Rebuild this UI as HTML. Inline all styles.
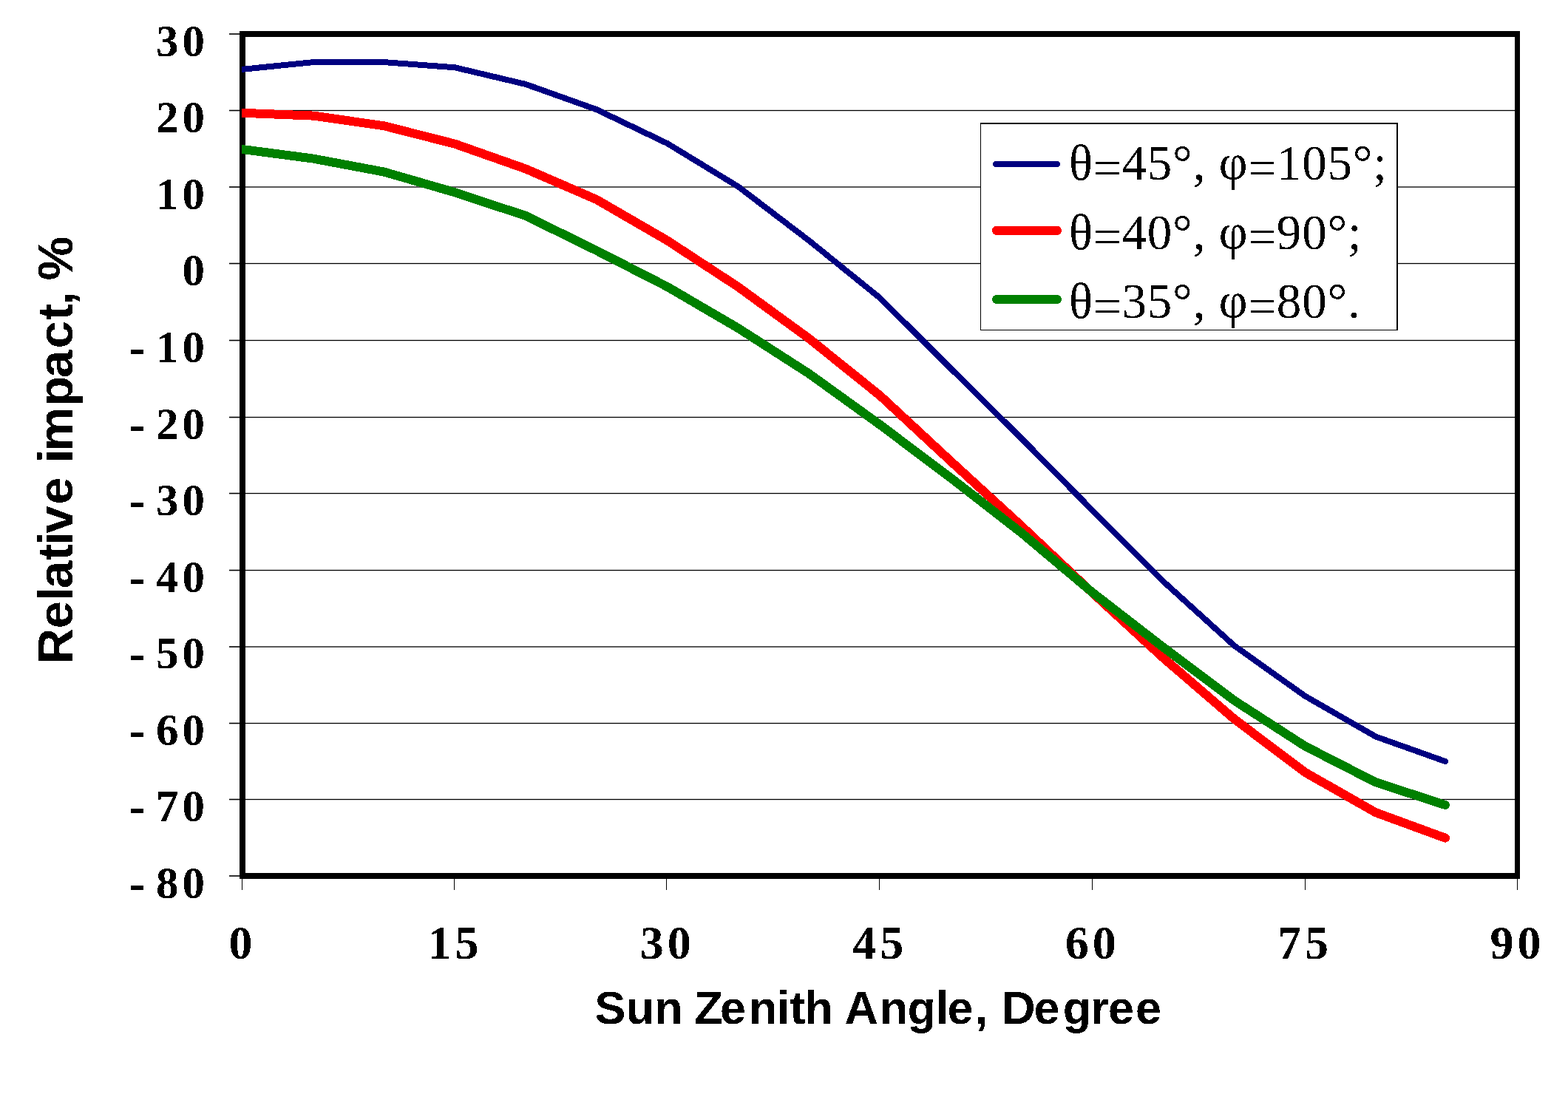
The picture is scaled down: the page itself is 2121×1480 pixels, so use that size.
<!DOCTYPE html>
<html><head><meta charset="utf-8"><style>
html,body{margin:0;padding:0;background:#fff;}
body{width:2121px;height:1480px;overflow:hidden;}
svg{display:block;}
.yl{font-family:"Liberation Serif",serif;font-weight:bold;font-size:61px;letter-spacing:5px;}
.xl{font-family:"Liberation Serif",serif;font-weight:bold;font-size:64px;letter-spacing:5px;}
.lg{font-family:"Liberation Serif",serif;font-size:67px;letter-spacing:0.8px;}
.hy{font-size:66px;letter-spacing:0;}
.at2{font-family:"Liberation Sans",sans-serif;font-weight:bold;font-size:67px;letter-spacing:-0.7px;}
.at{font-family:"Liberation Sans",sans-serif;font-weight:bold;font-size:62.8px;letter-spacing:0.2px;}
</style></head><body>
<svg width="2121" height="1480" viewBox="0 0 2121 1480">
<rect width="2121" height="1480" fill="#fff"/>

<rect x="332" y="148.85" width="1717" height="1.3" fill="#000"/>
<rect x="332" y="252.35" width="1717" height="1.3" fill="#000"/>
<rect x="332" y="355.85" width="1717" height="1.3" fill="#000"/>
<rect x="332" y="459.85" width="1717" height="1.3" fill="#000"/>
<rect x="332" y="563.85" width="1717" height="1.3" fill="#000"/>
<rect x="332" y="666.85" width="1717" height="1.3" fill="#000"/>
<rect x="332" y="770.85" width="1717" height="1.3" fill="#000"/>
<rect x="332" y="874.35" width="1717" height="1.3" fill="#000"/>
<rect x="332" y="977.85" width="1717" height="1.3" fill="#000"/>
<rect x="332" y="1080.85" width="1717" height="1.3" fill="#000"/>
<rect x="310" y="45.20" width="16" height="1.6" fill="#000"/>
<rect x="310" y="148.70" width="16" height="1.6" fill="#000"/>
<rect x="310" y="252.20" width="16" height="1.6" fill="#000"/>
<rect x="310" y="355.70" width="16" height="1.6" fill="#000"/>
<rect x="310" y="459.70" width="16" height="1.6" fill="#000"/>
<rect x="310" y="563.70" width="16" height="1.6" fill="#000"/>
<rect x="310" y="666.70" width="16" height="1.6" fill="#000"/>
<rect x="310" y="770.70" width="16" height="1.6" fill="#000"/>
<rect x="310" y="874.20" width="16" height="1.6" fill="#000"/>
<rect x="310" y="977.70" width="16" height="1.6" fill="#000"/>
<rect x="310" y="1080.70" width="16" height="1.6" fill="#000"/>
<rect x="310" y="1184.20" width="16" height="1.6" fill="#000"/>
<rect x="327" y="1186" width="1" height="18" fill="#000"/>
<rect x="614" y="1186" width="1" height="18" fill="#000"/>
<rect x="901" y="1186" width="1" height="18" fill="#000"/>
<rect x="1189" y="1186" width="1" height="18" fill="#000"/>
<rect x="1477" y="1186" width="1" height="18" fill="#000"/>
<rect x="1765" y="1186" width="1" height="18" fill="#000"/>
<rect x="2052" y="1186" width="1" height="18" fill="#000"/>
<rect x="324" y="42" width="1732" height="8" fill="#000"/>
<rect x="324" y="1181" width="1732" height="8" fill="#000"/>
<rect x="324" y="42" width="8" height="1147" fill="#000"/>
<rect x="2049" y="42" width="7" height="1147" fill="#000"/>
<defs><clipPath id="pc"><rect x="327" y="46" width="1725" height="1139"/></clipPath></defs><g clip-path="url(#pc)">
<polyline points="328.0,93.8 423.8,84.1 519.6,84.1 615.4,91.3 711.2,114.0 807.0,148.2 902.8,194.1 998.6,252.5 1094.4,325.5 1190.2,403.0 1286.1,498.5 1381.9,593.3 1477.7,690.5 1573.5,786.5 1669.3,873.3 1765.1,941.5 1860.9,996.5 1955.0,1030.0" fill="none" stroke="#000080" stroke-width="8" stroke-linejoin="round" stroke-linecap="round" shape-rendering="crispEdges"/>
<polyline points="328.0,152.8 423.8,156.6 519.6,170.3 615.4,194.7 711.2,228.5 807.0,270.0 902.8,325.5 998.6,388.2 1094.4,458.0 1190.2,535.0 1286.1,624.0 1381.9,711.7 1477.7,802.0 1573.5,890.0 1669.3,972.5 1765.1,1044.7 1860.9,1099.2 1955.0,1133.7" fill="none" stroke="#ff0000" stroke-width="12" stroke-linejoin="round" stroke-linecap="round" shape-rendering="crispEdges"/>
<polyline points="328.0,202.0 423.8,214.6 519.6,232.6 615.4,260.3 711.2,292.0 807.0,339.0 902.8,388.0 998.6,444.0 1094.4,505.5 1190.2,574.5 1286.1,646.5 1381.9,721.0 1477.7,801.5 1573.5,875.7 1669.3,947.5 1765.1,1009.3 1860.9,1058.3 1955.0,1089.0" fill="none" stroke="#008000" stroke-width="12" stroke-linejoin="round" stroke-linecap="round" shape-rendering="crispEdges"/>
</g>
<defs><filter id="crisp" x="-5%" y="-5%" width="110%" height="110%"><feComponentTransfer><feFuncA type="discrete" tableValues="0 1"/></feComponentTransfer></filter></defs><g filter="url(#crisp)">
<text class="yl" x="282" y="75.6" text-anchor="end">30</text>
<text class="yl" x="282" y="179.2" text-anchor="end">20</text>
<text class="yl" x="282" y="282.7" text-anchor="end">10</text>
<text class="yl" x="282" y="386.3" text-anchor="end">0</text>
<text class="yl" x="282" y="489.9" text-anchor="end">10</text>
<text class="yl hy" x="174.5" y="491.9">-</text>
<text class="yl" x="282" y="593.5" text-anchor="end">20</text>
<text class="yl hy" x="174.5" y="595.5">-</text>
<text class="yl" x="282" y="697.0" text-anchor="end">30</text>
<text class="yl hy" x="174.5" y="699.0">-</text>
<text class="yl" x="282" y="800.6" text-anchor="end">40</text>
<text class="yl hy" x="174.5" y="802.6">-</text>
<text class="yl" x="282" y="904.2" text-anchor="end">50</text>
<text class="yl hy" x="174.5" y="906.2">-</text>
<text class="yl" x="282" y="1007.8" text-anchor="end">60</text>
<text class="yl hy" x="174.5" y="1009.8">-</text>
<text class="yl" x="282" y="1111.3" text-anchor="end">70</text>
<text class="yl hy" x="174.5" y="1113.3">-</text>
<text class="yl" x="282" y="1214.9" text-anchor="end">80</text>
<text class="yl hy" x="174.5" y="1216.9">-</text>
<text class="xl" x="328.0" y="1297" text-anchor="middle">0</text>
<text class="xl" x="615.4" y="1297" text-anchor="middle">15</text>
<text class="xl" x="902.8" y="1297" text-anchor="middle">30</text>
<text class="xl" x="1190.2" y="1297" text-anchor="middle">45</text>
<text class="xl" x="1477.7" y="1297" text-anchor="middle">60</text>
<text class="xl" x="1765.1" y="1297" text-anchor="middle">75</text>
<text class="xl" x="2052.5" y="1297" text-anchor="middle">90</text>
<text class="at" x="804.6 846.7 885.3 923.9 939.3 974.1 1013.1 1050.8 1068.5 1088.5 1127.1 1142.4 1189.8 1227.5 1266.1 1281.5 1318.9 1336.5 1355.3 1398.6 1437.8 1475.3 1499.0 1535.9" y="1384.9">Sun Zenith Angle, Degree</text>
<text class="at2" transform="translate(98,898.4) rotate(-90)" x="0.0 48.0 85.3 102.2 140.2 160.8 176.8 215.8 252.4 271.9 287.8 348.4 387.3 427.0 465.3 485.3 502.0 519.0" y="0">Relative impact, %</text>
</g>
<rect x="1326" y="166" width="565" height="281" fill="#fff"/>
<rect x="1326" y="166" width="565" height="2" fill="#000"/>
<rect x="1326" y="446" width="565" height="1" fill="#000"/>
<rect x="1326" y="166" width="1" height="281" fill="#000"/>
<rect x="1889" y="166" width="2" height="281" fill="#000"/>
<line x1="1347" y1="222" x2="1430" y2="222" stroke="#000080" stroke-width="8" stroke-linecap="round" shape-rendering="crispEdges"/>
<line x1="1348" y1="311.9" x2="1430" y2="311.9" stroke="#ff0000" stroke-width="12" stroke-linecap="round" shape-rendering="crispEdges"/>
<line x1="1348" y1="405" x2="1430" y2="405" stroke="#008000" stroke-width="12" stroke-linecap="round" shape-rendering="crispEdges"/>
<g filter="url(#crisp)">
<text class="lg" x="1446" y="243.4">θ<tspan dy="6.5">=</tspan><tspan dy="-6.5">45°, φ</tspan><tspan dy="6.5">=</tspan><tspan dy="-6.5">105°;</tspan></text>
<text class="lg" x="1446" y="336.7">θ<tspan dy="6.5">=</tspan><tspan dy="-6.5">40°, φ</tspan><tspan dy="6.5">=</tspan><tspan dy="-6.5">90°;</tspan></text>
<text class="lg" x="1446" y="430">θ<tspan dy="6.5">=</tspan><tspan dy="-6.5">35°, φ</tspan><tspan dy="6.5">=</tspan><tspan dy="-6.5">80°.</tspan></text>
</g>
</svg></body></html>
